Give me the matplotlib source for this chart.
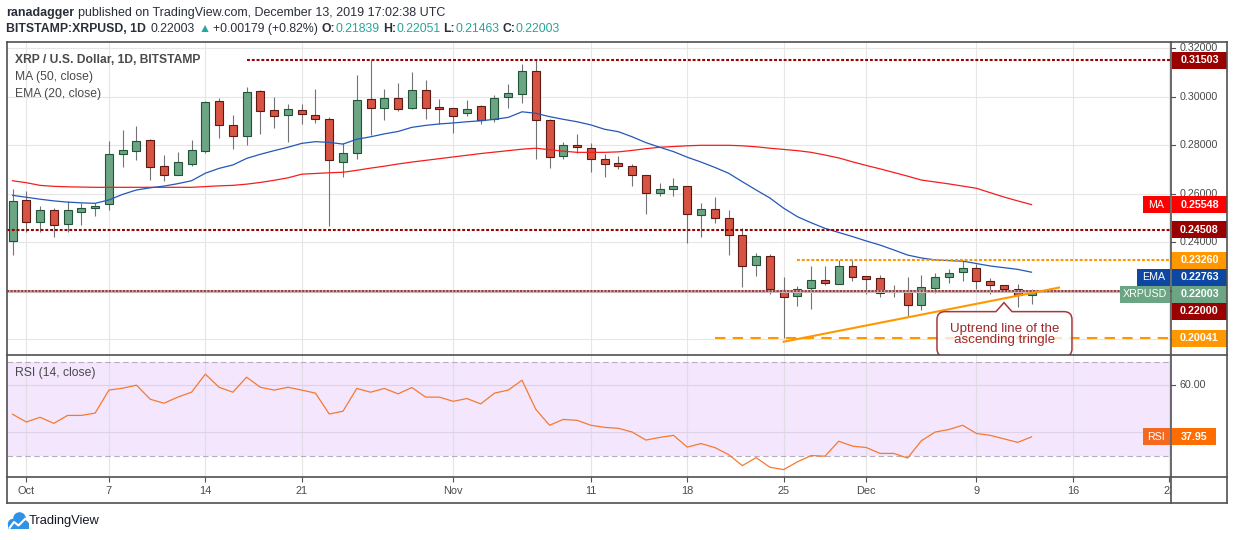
import numpy as np
import pandas as pd
import matplotlib
matplotlib.use("Agg")
import matplotlib.pyplot as plt
import matplotlib.transforms as mtransforms
from matplotlib.patches import Rectangle, PathPatch, Circle
from matplotlib.path import Path
from matplotlib.lines import Line2D

plt.rcParams['font.family'] = ['Liberation Sans', 'DejaVu Sans']

# ======================================================
# DATA
# ======================================================
dates = pd.date_range('2019-09-30', '2019-12-13', freq='D')

opens = [0.2404, 0.2572, 0.2482, 0.2531, 0.2474, 0.2523, 0.2540, 0.2556, 0.2762, 0.2774,
         0.2820, 0.2713, 0.2675, 0.2721, 0.2774, 0.2980, 0.2881, 0.2836, 0.3021, 0.2943,
         0.2923, 0.2943, 0.2923, 0.2906, 0.2729, 0.2766, 0.2988, 0.2951, 0.2993, 0.2951,
         0.3026, 0.2953, 0.2951, 0.2931, 0.2960, 0.2906, 0.2997, 0.3009, 0.3104, 0.2902,
         0.2754, 0.2799, 0.2787, 0.2741, 0.2725, 0.2713, 0.2675, 0.2601, 0.2618, 0.2630,
         0.2511, 0.2535, 0.2498, 0.2428, 0.2305, 0.2342, 0.2202, 0.2177, 0.2210, 0.2243,
         0.2227, 0.2301, 0.2259, 0.2251, 0.2194, 0.2194, 0.2140, 0.2210, 0.2255, 0.2276,
         0.2292, 0.2239, 0.2222, 0.2206, 0.21839]
highs = [0.2618, 0.2611, 0.2549, 0.2541, 0.2568, 0.2563, 0.2563, 0.2817, 0.2862, 0.2877,
         0.2824, 0.2758, 0.2770, 0.2821, 0.2980, 0.2993, 0.2923, 0.3038, 0.3026, 0.2997,
         0.2968, 0.2968, 0.3030, 0.2914, 0.2807, 0.3087, 0.3150, 0.3030, 0.3054, 0.3100,
         0.3067, 0.2988, 0.2951, 0.2984, 0.2964, 0.3005, 0.3050, 0.3134, 0.3150, 0.2906,
         0.2811, 0.2844, 0.2807, 0.2762, 0.2754, 0.2721, 0.2675, 0.2643, 0.2663, 0.2630,
         0.2560, 0.2585, 0.2531, 0.2457, 0.2354, 0.2350, 0.2255, 0.2218, 0.2301, 0.2301,
         0.2325, 0.2325, 0.2259, 0.2264, 0.2222, 0.2255, 0.2264, 0.2272, 0.2288, 0.2321,
         0.2309, 0.2251, 0.2225, 0.2227, 0.22051]
lows = [0.2348, 0.2443, 0.2443, 0.2420, 0.2441, 0.2470, 0.2509, 0.2534, 0.2711, 0.2737,
        0.2655, 0.2651, 0.2675, 0.2713, 0.2766, 0.2828, 0.2783, 0.2799, 0.2844, 0.2872,
        0.2811, 0.2885, 0.2890, 0.2468, 0.2667, 0.2741, 0.2840, 0.2902, 0.2939, 0.2947,
        0.2906, 0.2885, 0.2848, 0.2918, 0.2885, 0.2894, 0.2951, 0.2972, 0.2741, 0.2704,
        0.2741, 0.2766, 0.2688, 0.2667, 0.2700, 0.2630, 0.2515, 0.2589, 0.2589, 0.2395,
        0.2423, 0.2478, 0.2348, 0.2217, 0.2259, 0.2185, 0.2004, 0.2136, 0.2124, 0.2222,
        0.2227, 0.2239, 0.2185, 0.2173, 0.2173, 0.2095, 0.2119, 0.2189, 0.2231, 0.2239,
        0.2206, 0.2185, 0.2204, 0.2132, 0.21463]
closes = [0.2568, 0.2482, 0.2531, 0.2470, 0.2531, 0.2540, 0.2549, 0.2762, 0.2778, 0.2815,
          0.2708, 0.2675, 0.2729, 0.2778, 0.2976, 0.2881, 0.2836, 0.3017, 0.2939, 0.2918,
          0.2947, 0.2927, 0.2906, 0.2737, 0.2766, 0.2984, 0.2951, 0.2993, 0.2947, 0.3026,
          0.2951, 0.2949, 0.2918, 0.2947, 0.2902, 0.2993, 0.3013, 0.3104, 0.2902, 0.2750,
          0.2799, 0.2791, 0.2741, 0.2721, 0.2713, 0.2675, 0.2601, 0.2618, 0.2630, 0.2515,
          0.2535, 0.2498, 0.2428, 0.2301, 0.2342, 0.2206, 0.2173, 0.2206, 0.2243, 0.2231,
          0.2301, 0.2255, 0.2247, 0.2189, 0.2198, 0.2140, 0.2214, 0.2255, 0.2272, 0.2292,
          0.2239, 0.2222, 0.2206, 0.2181, 0.22003]

ma50 = [0.2653, 0.2645, 0.2634, 0.2630, 0.2628, 0.2627, 0.2626, 0.2626, 0.2626, 0.2626,
        0.2626, 0.2626, 0.2626, 0.2626, 0.2629, 0.2632, 0.2634, 0.2639, 0.2646, 0.2655,
        0.2665, 0.2680, 0.2683, 0.2686, 0.2688, 0.2696, 0.2705, 0.2713, 0.2722, 0.2730,
        0.2737, 0.2744, 0.2751, 0.2758, 0.2765, 0.2771, 0.2777, 0.2783, 0.2787, 0.2781,
        0.2775, 0.2770, 0.2770, 0.2770, 0.2772, 0.2778, 0.2785, 0.2791, 0.2794, 0.2797,
        0.2799, 0.2799, 0.2799, 0.2797, 0.2793, 0.2787, 0.2782, 0.2777, 0.2770, 0.2759,
        0.2747, 0.2731, 0.2716, 0.2702, 0.2687, 0.2672, 0.2656, 0.2648, 0.2640, 0.2631,
        0.2622, 0.2604, 0.2586, 0.2570, 0.25548]
ema20 = [0.2593, 0.2585, 0.2577, 0.2570, 0.2565, 0.2562, 0.2560, 0.2574, 0.2597, 0.2615,
         0.2624, 0.2631, 0.2641, 0.2653, 0.2684, 0.2704, 0.2718, 0.2745, 0.2762, 0.2777,
         0.2791, 0.2807, 0.2814, 0.2811, 0.2804, 0.2824, 0.2834, 0.2846, 0.2856, 0.2873,
         0.2881, 0.2887, 0.2891, 0.2896, 0.2900, 0.2906, 0.2914, 0.2937, 0.2931, 0.2917,
         0.2906, 0.2896, 0.2883, 0.2865, 0.2855, 0.2834, 0.2810, 0.2791, 0.2773, 0.2750,
         0.2730, 0.2708, 0.2684, 0.2649, 0.2615, 0.2582, 0.2540, 0.2505, 0.2480, 0.2457,
         0.2440, 0.2423, 0.2405, 0.2388, 0.2368, 0.2347, 0.2335, 0.2327, 0.2324, 0.2322,
         0.2312, 0.2302, 0.2295, 0.2288, 0.22763]
rsi14 = [47.6, 44.3, 46.3, 43.7, 47.1, 47.1, 48.1, 57.9, 58.7, 60.0,
         54.0, 52.3, 54.9, 57.0, 64.7, 59.1, 57.0, 63.4, 59.1, 57.9,
         59.1, 57.9, 56.6, 47.7, 48.9, 58.6, 57.0, 58.6, 56.3, 59.0,
         54.9, 54.9, 53.1, 54.3, 52.0, 56.6, 57.9, 62.1, 49.7, 42.9,
         45.4, 45.0, 42.9, 42.0, 41.6, 40.0, 36.6, 37.7, 38.6, 33.6,
         35.1, 33.4, 30.4, 25.7, 29.1, 25.0, 24.0, 27.3, 30.0, 29.7,
         36.1, 34.0, 33.4, 30.9, 30.9, 28.9, 36.3, 40.0, 41.1, 42.9,
         39.4, 38.6, 37.1, 35.6, 37.95]

x_tick_dates = ['2019-10-01', '2019-10-07', '2019-10-14', '2019-10-21', '2019-11-01', '2019-11-11',
                '2019-11-18', '2019-11-25', '2019-12-01', '2019-12-09', '2019-12-16', '2019-12-23']
x_tick_labels = ['Oct', '7', '14', '21', 'Nov', '11', '18', '25', 'Dec', '9', '16', '23']
price_ticks = [0.20, 0.22, 0.24, 0.26, 0.28, 0.30, 0.32]
price_tick_labels = [None, None, '0.24000', '0.26000', '0.28000', '0.30000', '0.32000']

# drawn levels: resistance / support and the triangle
top_level, top_from = 0.31503, '2019-10-17'
mid_level = 0.24508
base_level = 0.22000
tri_top, tri_top_from = 0.23260, '2019-11-26'
tri_low, tri_low_from = 0.20041, '2019-11-20'
trend_dates = ['2019-11-25', '2019-12-15']
trend_vals = [0.1990, 0.2213]
note_date, note_value = '2019-12-11', 0.2151
note_text = 'Uptrend line of the\nascending tringle'

last_close = closes[-1]

# ======================================================
# LAYOUT
# ======================================================
ORIGIN = pd.Timestamp('2019-10-01')


def to_day(s):
    return (pd.Timestamp(s) - ORIGIN).days


day = np.asarray((dates - ORIGIN).days)

W, H = 1234, 540
fig = plt.figure(figsize=(W / 100, H / 100), dpi=100)


def box(x0, y0, x1, y1):
    return [x0 / W, 1 - y1 / H, (x1 - x0) / W, (y1 - y0) / H]


L, R, RR = 7, 1171, 1227
T, M, B, XB = 42, 355, 477, 503
XLIM = ((L - 26.3) / 13.77, (R - 26.3) / 13.77)
PLIM = (0.19353, 0.32245)
RLIM = (20.84, 72.86)
PX = (PLIM[1] - PLIM[0]) / (M - T)
RPX = (RLIM[1] - RLIM[0]) / (B - M)

ax = fig.add_axes(box(L, T, R, M))
ax_rsi = fig.add_axes(box(L, M, R, B))
ax_x = fig.add_axes(box(L, B, R, XB))
ax_pr = fig.add_axes(box(R, T, RR, M))
ax_rr = fig.add_axes(box(R, M, RR, B))
for a in (ax, ax_rsi, ax_x, ax_pr, ax_rr):
    a.set_axis_off()
for a in (ax, ax_rsi, ax_x):
    a.set_xlim(*XLIM)
ax.set_ylim(*PLIM)
ax_pr.set_ylim(*PLIM)
ax_rsi.set_ylim(*RLIM)
ax_rr.set_ylim(*RLIM)
ax_pr.set_xlim(0, RR - R)
ax_rr.set_xlim(0, RR - R)
ax_x.set_ylim(0, 1)

GRID = '#e6e6e6'
AXTXT = '#4a4a4a'
FRAME = '#505050'
tick_days = [to_day(t) for t in x_tick_dates]

# ======================================================
# PRICE PANEL
# ======================================================
for d in tick_days:
    ax.axvline(d, color=GRID, lw=0.8, zorder=0)
for p in price_ticks:
    ax.axhline(p, color=GRID, lw=0.8, zorder=0)

o = np.array(opens)
c = np.array(closes)
hi = np.array(highs)
lo = np.array(lows)
ax.vlines(day, lo, hi, color='#737375', lw=0.8, zorder=2)
for d, op, cl in zip(day, o, c):
    up = cl >= op
    bottom = min(op, cl)
    height = max(abs(cl - op), 1.5 * PX)
    ax.add_patch(Rectangle((d - 0.29, bottom), 0.58, height,
                           facecolor='#6ba583' if up else '#d75442',
                           edgecolor='#225437' if up else '#5b1a13',
                           lw=0.8, zorder=3))

ax.plot(day, ma50, color='#f51d1d', lw=0.9, zorder=4)
ax.plot(day, ema20, color='#2457b8', lw=0.9, zorder=4)

DOT = (1.4, 0.9)
ax.plot([to_day(top_from), XLIM[1]], [top_level] * 2, color='#990000', lw=1.5, dashes=DOT, zorder=5)
ax.plot(XLIM, [mid_level] * 2, color='#990000', lw=1.5, dashes=DOT, zorder=5)
ax.plot(XLIM, [base_level] * 2, color='#c9b3b3', lw=2.2, zorder=5)
ax.plot(XLIM, [base_level] * 2, color='#8b1c1c', lw=1.1, dashes=DOT, zorder=5)
ax.plot([to_day(tri_top_from), XLIM[1]], [tri_top] * 2, color='#ff9800', lw=1.5, dashes=DOT, zorder=5)
ax.plot([to_day(tri_low_from), XLIM[1]], [tri_low] * 2, color='#ff9800', lw=1.5, dashes=(5, 3.5), zorder=5)
ax.plot([to_day(t) for t in trend_dates], trend_vals, color='#ff9800', lw=1.5, zorder=5)

# callout bubble anchored at a point just under the trend line
pix = mtransforms.Affine2D().scale(1 / W, -1 / H).translate(0, 1) + fig.transFigure
tx, ty = ax.transData.transform((to_day(note_date), note_value))
ty = H - ty
lft, rgt, top, bot, rad = tx - 67, tx + 68, ty + 9, ty + 54, 8
verts = [(lft + rad, top), (tx - 8, top), (tx, ty), (tx + 8, top), (rgt - rad, top),
         (rgt, top), (rgt, top + rad), (rgt, bot - rad), (rgt, bot), (rgt - rad, bot),
         (lft + rad, bot), (lft, bot), (lft, bot - rad), (lft, top + rad), (lft, top),
         (lft + rad, top), (lft + rad, top)]
codes = [Path.MOVETO, Path.LINETO, Path.LINETO, Path.LINETO, Path.LINETO,
         Path.CURVE3, Path.CURVE3, Path.LINETO, Path.CURVE3, Path.CURVE3,
         Path.LINETO, Path.CURVE3, Path.CURVE3, Path.LINETO, Path.CURVE3, Path.CURVE3,
         Path.CLOSEPOLY]
bubble = PathPatch(Path(verts, codes), transform=pix, facecolor=(1, 1, 1, 0.75),
                   edgecolor='#a8393b', lw=1.1, zorder=7)
ax.add_patch(bubble)
ax.text(tx + 1, ty + 32, note_text, transform=pix, ha='center', va='center',
        fontsize=9.6, color='#a0282a', linespacing=0.95, zorder=8)

# legend-like titles
fig.text(15 / W, 1 - 60 / H, 'XRP / U.S. Dollar, 1D, BITSTAMP', fontsize=8.7,
         fontweight='bold', color=AXTXT, va='center')
fig.text(15 / W, 1 - 77 / H, 'MA (50, close)', fontsize=8.7, color=AXTXT, va='center')
fig.text(15 / W, 1 - 94 / H, 'EMA (20, close)', fontsize=8.7, color=AXTXT, va='center')

# ======================================================
# PRICE SCALE
# ======================================================
for p, lab in zip(price_ticks, price_tick_labels):
    ax_pr.plot([0, 4], [p, p], color=FRAME, lw=0.8)
    if lab:
        ax_pr.text(9, p, lab, fontsize=7.7, color=AXTXT, va='center', ha='left', clip_on=True)


def tag(axis, value, text, color, unit, shift=0, width=55, name=None, name_w=0):
    yc = value - shift * unit
    h = 17 * unit
    axis.add_patch(Rectangle((1, yc - h / 2), width, h, facecolor=color, edgecolor='none',
                             clip_on=False, zorder=5))
    axis.text(1 + width / 2, yc, text, color='white', fontweight='bold', fontsize=7.7,
              ha='center', va='center', clip_on=False, zorder=6)
    if name:
        axis.add_patch(Rectangle((-1 - name_w, yc - h / 2), name_w, h, facecolor=color,
                                 edgecolor='none', clip_on=False, zorder=5))
        axis.text(-1 - name_w / 2, yc, name, color='white', fontsize=7.7,
                  ha='center', va='center', clip_on=False, zorder=6)


tag(ax_pr, top_level, f'{top_level:.5f}', '#990000', PX)
tag(ax_pr, ma50[-1], f'{ma50[-1]:.5f}', '#ff0000', PX, name='MA', name_w=27)
tag(ax_pr, mid_level, f'{mid_level:.5f}', '#990000', PX)
tag(ax_pr, tri_top, f'{tri_top:.5f}', '#ff9800', PX)
tag(ax_pr, ema20[-1], f'{ema20[-1]:.5f}', '#0d47a1', PX, shift=5.1, name='EMA', name_w=33)
tag(ax_pr, last_close, f'{last_close:.5f}', '#6ba583', PX, shift=3.7, name='XRPUSD', name_w=50)
tag(ax_pr, base_level, f'{base_level:.5f}', '#990000', PX, shift=20.3)
tag(ax_pr, tri_low, f'{tri_low:.5f}', '#ff9800', PX)

# ======================================================
# RSI PANEL
# ======================================================
ax_rsi.axhspan(30, 70, color='#f3e6fd', lw=0, zorder=0)
for d in tick_days:
    ax_rsi.axvline(d, color='#d9d9d9', lw=0.8, alpha=0.7, zorder=1)
for lvl in (60, 40):
    ax_rsi.axhline(lvl, color='#ddd2e8', lw=0.8, zorder=1)
for lvl in (70, 30):
    ax_rsi.axhline(lvl, color='#b5adbd', lw=0.8, dashes=(5, 3), zorder=1)
ax_rsi.plot(day, rsi14, color='#f57a30', lw=0.9, zorder=3)
fig.text(15 / W, 1 - 373 / H, 'RSI (14, close)', fontsize=8.7, color=AXTXT, va='center')

ax_rr.plot([0, 4], [60, 60], color=FRAME, lw=0.8)
ax_rr.text(9, 60, '60.00', fontsize=7.7, color=AXTXT, va='center', ha='left')
tag(ax_rr, rsi14[-1], f'{rsi14[-1]:.2f}', '#ff6d00', RPX, width=44)
ax_rr.add_patch(Rectangle((-28, rsi14[-1] - 8.5 * RPX), 27, 17 * RPX, facecolor='#f4691f',
                          edgecolor='none', clip_on=False, zorder=5))
ax_rr.text(-14.5, rsi14[-1], 'RSI', color='white', fontsize=7.7, ha='center', va='center',
           clip_on=False, zorder=6)

# ======================================================
# TIME AXIS
# ======================================================
ax_x.vlines(tick_days, 0.82, 1.0, color=FRAME, lw=0.8)
for d, lab in zip(tick_days, x_tick_labels):
    ax_x.text(d, 0.46, lab, ha='center', va='center', fontsize=7.9, color=AXTXT, clip_on=True)

# ======================================================
# FRAME
# ======================================================
def seg(x0, y0, x1, y1):
    fig.add_artist(Line2D([x0 / W, x1 / W], [1 - y0 / H, 1 - y1 / H], color=FRAME, lw=1.2))


seg(L, T, RR, T)
seg(L, M, RR, M)
seg(L, B, RR, B)
seg(L, XB, RR, XB)
seg(L, T, L, XB)
seg(R, T, R, XB)
seg(RR, T, RR, XB)

# ======================================================
# HEADER / FOOTER
# ======================================================
renderer = fig.canvas.get_renderer()
TEAL = '#26a69a'
HEAD = '#2a2e39'


def write_runs(x, y, runs, size):
    for text, color, weight, gap in runs:
        x += gap
        t = fig.text(x / W, 1 - y / H, text, color=color, fontweight=weight,
                     fontsize=size, va='center', ha='left')
        x += t.get_window_extent(renderer).width


write_runs(6, 13, [('ranadagger', HEAD, 'bold', 0),
                   ('published on TradingView.com, December 13, 2019 17:02:38 UTC', HEAD, 'normal', 3.5)], 9)
write_runs(6, 29, [('BITSTAMP:XRPUSD, 1D', HEAD, 'bold', 0),
                   ('0.22003', HEAD, 'normal', 5),
                   ('\u25B2', TEAL, 'normal', 3),
                   ('+0.00179 (+0.82%)', HEAD, 'normal', 3),
                   ('O:', HEAD, 'bold', 3.5), ('0.21839', TEAL, 'normal', 0),
                   ('H:', HEAD, 'bold', 3.5), ('0.22051', TEAL, 'normal', 0),
                   ('L:', HEAD, 'bold', 3.5), ('0.21463', TEAL, 'normal', 0),
                   ('C:', HEAD, 'bold', 3.5), ('0.22003', TEAL, 'normal', 0)], 8.8)

LOGO = '#2e93e6'
for cx, cy, r in [(13, 524, 5.2), (19.5, 518.5, 6.3), (24.5, 524.5, 4.3)]:
    fig.add_artist(Circle((cx, cy), r, transform=pix, facecolor=LOGO, edgecolor='none'))
fig.add_artist(Rectangle((8, 523), 20.5, 6, transform=pix, facecolor=LOGO, edgecolor='none'))
fig.add_artist(Line2D([9.5, 14, 18.5, 25], [528, 522, 525.5, 519], transform=pix,
                      color='white', lw=1.5))
fig.text(29 / W, 1 - 521 / H, 'TradingView', fontsize=9.3, color='#131722', va='center')

fig.savefig('out.png', dpi=100)
